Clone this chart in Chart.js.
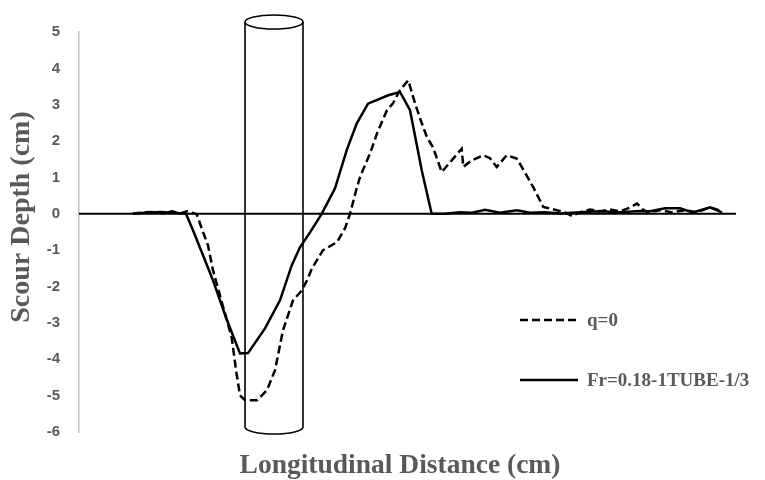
<!DOCTYPE html>
<html>
<head>
<meta charset="utf-8">
<script src="https://cdn.jsdelivr.net/npm/chart.js@4"></script>
<style>
  html, body { margin: 0; padding: 0; background: #ffffff; }
  #c { display: block; }
</style>
</head>
<body>
<canvas id="c" width="765" height="480"></canvas>
<script>
// ---- data (longitudinal distance in cm, scour depth in cm) ----
const qLabel = "q=0";
const qDist  = [9.0, 11.0, 12.67, 14.33, 15.5, 16.83, 18.0, 19.62, 20.45, 21.5, 22.33, 24.33, 25.45, 26.17, 26.83, 27.67, 29.67, 31.33, 32.67, 34.0, 35.67, 37.17, 38.0, 38.83, 40.67, 43.0, 44.33, 45.17, 46.33, 46.83, 48.5, 49.67, 51.33, 52.33, 53.5, 54.88, 56.0, 56.83, 58.0, 59.0, 60.45, 62.12, 63.78, 64.05, 65.45, 67.38, 68.5, 69.62, 71.28, 72.95, 74.33, 75.72, 77.38, 79.62, 81.0, 82.17, 83.5, 85.17, 86.83, 88.5, 90.17, 91.5, 93.0, 94.0, 94.83, 96.83, 98.83, 101.0, 103.0, 105.17, 107.17];
const qDepth = [0.01, 0.04, 0.05, 0.01, 0.07, 0.01, 0.07, -0.01, -0.40, -0.87, -1.55, -2.74, -3.40, -4.30, -4.99, -5.13, -5.13, -4.85, -4.30, -3.20, -2.38, -2.10, -1.83, -1.50, -1.00, -0.78, -0.40, 0.0, 0.73, 1.01, 1.66, 2.21, 2.85, 3.04, 3.40, 3.67, 3.04, 2.63, 2.10, 1.83, 1.15, 1.47, 1.79, 1.29, 1.47, 1.61, 1.53, 1.29, 1.61, 1.52, 1.14, 0.73, 0.19, 0.10, 0.04, -0.06, 0.04, 0.12, 0.07, 0.12, 0.07, 0.15, 0.28, 0.12, 0.04, 0.10, 0.04, 0.10, 0.04, 0.18, 0.07];

const frLabel = "Fr=0.18-1TUBE-1/3";
const frDist  = [9.0, 11.0, 13.5, 16.0, 17.83, 19.0, 20.67, 22.33, 24.5, 26.83, 28.17, 31.0, 33.5, 35.45, 36.83, 38.5, 40.45, 42.67, 44.62, 46.28, 48.17, 51.55, 53.5, 55.17, 57.12, 58.78, 61.0, 63.5, 65.5, 67.67, 70.17, 73.0, 75.17, 77.67, 80.17, 83.5, 86.83, 90.17, 93.5, 95.17, 97.67, 100.17, 102.33, 105.17, 107.17];
const frDepth = [0.0, 0.03, 0.05, 0.03, 0.0, -0.45, -1.14, -1.83, -2.85, -3.84, -3.83, -3.15, -2.38, -1.42, -0.92, -0.51, 0.0, 0.70, 1.75, 2.48, 3.03, 3.26, 3.35, 2.85, 1.20, 0.0, 0.0, 0.04, 0.03, 0.11, 0.03, 0.10, 0.03, 0.04, 0.01, 0.04, 0.07, 0.04, 0.08, 0.07, 0.15, 0.15, 0.04, 0.18, 0.04];

const yTicks = [5, 4, 3, 2, 1, 0, -1, -2, -3, -4, -5, -6];
const xTitle = 'Longitudinal Distance (cm)';
const yTitle = 'Scour Depth (cm)';

function pts(xs, ys) { return xs.map((x, i) => ({ x: x, y: ys[i] })); }

// pile (cylinder) position along the channel, in cm
const PILE_FROM = 27.67, PILE_TO = 37.33;
const SERIF = '"Liberation Serif", "Times New Roman", serif';

const decorPlugin = {
  id: 'decor',
  beforeDatasetsDraw(chart) {
    const { ctx, chartArea, scales } = chart;
    const y0 = scales.y.getPixelForValue(0);
    ctx.save();
    ctx.strokeStyle = '#000';
    ctx.lineWidth = 2;
    ctx.beginPath();
    ctx.moveTo(chartArea.left, y0);
    ctx.lineTo(chartArea.right - 3, y0);
    ctx.stroke();
    ctx.restore();
  },
  afterDraw(chart) {
    const { ctx, scales } = chart;
    const xl = scales.x.getPixelForValue(PILE_FROM);
    const xr = scales.x.getPixelForValue(PILE_TO);
    const cx = (xl + xr) / 2, rx = (xr - xl) / 2, ry = 7;
    const topY = 22, botY = 427;
    ctx.save();
    ctx.strokeStyle = '#000';
    ctx.lineWidth = 1.6;
    ctx.beginPath();
    ctx.ellipse(cx, topY, rx, ry, 0, 0, Math.PI * 2);
    ctx.stroke();
    ctx.beginPath();
    ctx.moveTo(xl, topY); ctx.lineTo(xl, botY);
    ctx.moveTo(xr, topY); ctx.lineTo(xr, botY);
    ctx.stroke();
    ctx.beginPath();
    ctx.ellipse(cx, botY, rx, ry, 0, 0, Math.PI);
    ctx.stroke();

    // axis titles
    ctx.fillStyle = '#595959';
    ctx.textAlign = 'center';
    ctx.textBaseline = 'middle';
    ctx.font = 'bold 27.5px ' + SERIF;
    ctx.fillText(xTitle, 400, 466);
    ctx.save();
    ctx.translate(22, 217);
    ctx.rotate(-Math.PI / 2);
    ctx.font = 'bold 28px ' + SERIF;
    ctx.fillText(yTitle, 0, 0);
    ctx.restore();

    // legend
    const items = chart.data.datasets;
    const lx0 = 520, lx1 = 578, tx = 587;
    const ly = [320, 380];
    ctx.font = 'bold 19px ' + SERIF;
    ctx.textBaseline = 'middle';
    ctx.textAlign = 'left';
    items.forEach((ds, i) => {
      ctx.strokeStyle = ds.borderColor;
      ctx.lineWidth = ds.borderWidth;
      ctx.setLineDash(ds.borderDash || []);
      ctx.beginPath();
      ctx.moveTo(lx0, ly[i]);
      ctx.lineTo(lx1, ly[i]);
      ctx.stroke();
      ctx.setLineDash([]);
      ctx.fillStyle = '#595959';
      ctx.fillText(ds.label, tx, ly[i] + 1);
    });
    ctx.restore();
  }
};

new Chart(document.getElementById('c'), {
  type: 'line',
  data: {
    datasets: [
      { label: qLabel, data: pts(qDist, qDepth), borderColor: '#000', borderWidth: 2.5, borderDash: [8, 4], pointRadius: 0, tension: 0, fill: false },
      { label: frLabel, data: pts(frDist, frDepth), borderColor: '#000', borderWidth: 2.5, pointRadius: 0, tension: 0, fill: false }
    ]
  },
  options: {
    responsive: false,
    animation: false,
    devicePixelRatio: 1,
    layout: { padding: { top: 32, right: 26, bottom: 0, left: 0 } },
    plugins: { legend: { display: false }, tooltip: { enabled: false } },
    scales: {
      x: {
        type: 'linear',
        min: 0, max: 110,
        afterFit(scale) { scale.height = 48; },
        grid: { display: false, drawTicks: false },
        border: { display: false },
        ticks: { display: false },
        title: { display: false }
      },
      y: {
        type: 'linear',
        min: -6, max: 5,
        afterBuildTicks(scale) { scale.ticks = yTicks.map(v => ({ value: v })); },
        afterFit(scale) { scale.width = 79; },
        grid: { display: false, drawTicks: false },
        border: { display: true, color: '#bfbfbf', width: 1.5 },
        ticks: {
          padding: 19,
          color: '#595959',
          font: { family: '"Liberation Sans", Arial, sans-serif', size: 15, weight: 'bold' }
        },
        title: { display: false }
      }
    }
  },
  plugins: [decorPlugin]
});
</script>
</body>
</html>
